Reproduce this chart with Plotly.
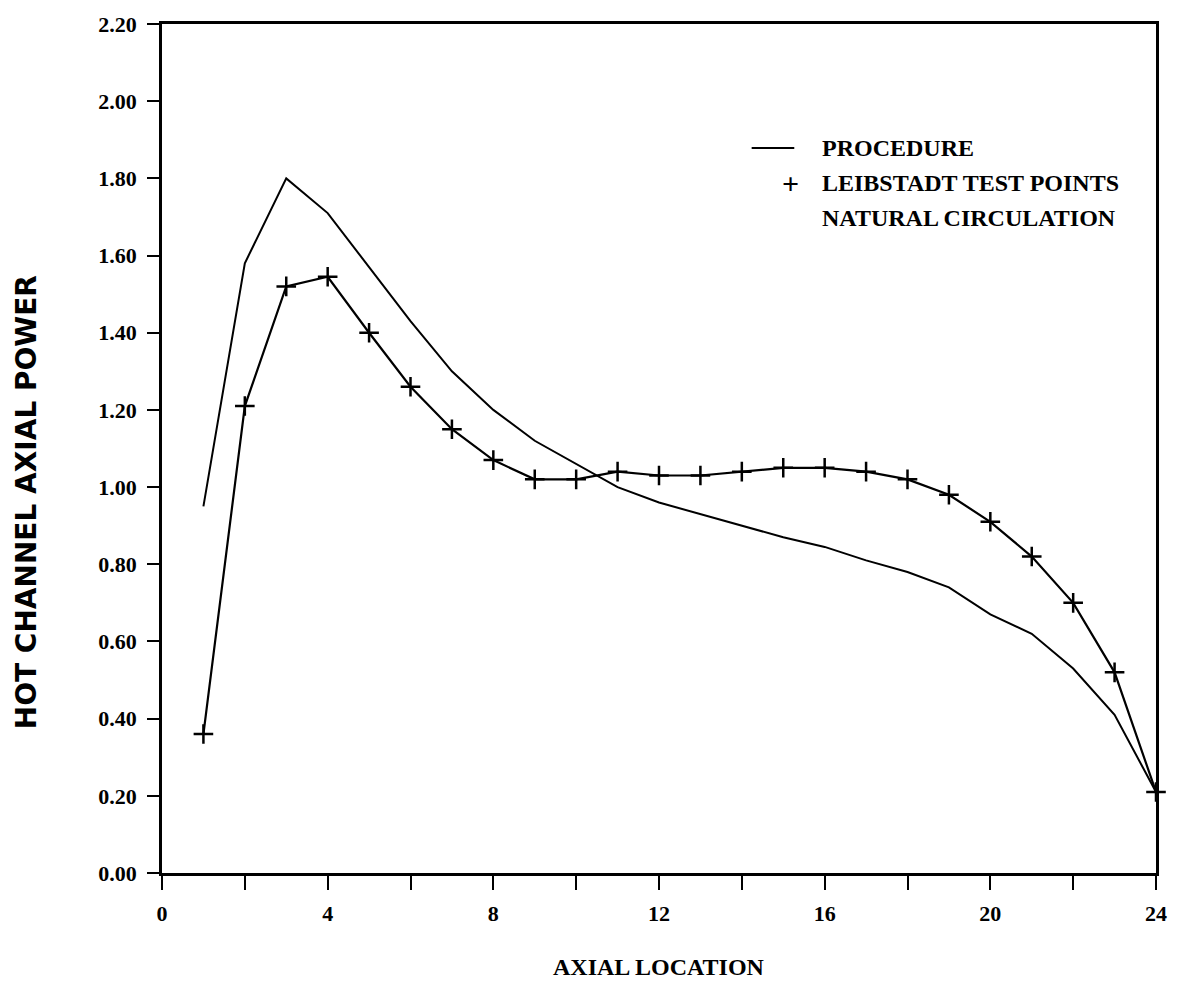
import plotly.graph_objects as go

# ---- data ----
axial_location = list(range(1, 25))
procedure = [0.95, 1.58, 1.80, 1.71, 1.57, 1.43, 1.30, 1.20, 1.12, 1.06, 1.00, 0.96,
             0.93, 0.90, 0.87, 0.845, 0.81, 0.78, 0.74, 0.67, 0.62, 0.53, 0.41, 0.21]
leibstadt = [0.36, 1.21, 1.52, 1.545, 1.40, 1.26, 1.15, 1.07, 1.02, 1.02, 1.04, 1.03,
             1.03, 1.04, 1.05, 1.05, 1.04, 1.02, 0.98, 0.91, 0.82, 0.70, 0.52, 0.21]
x_ticks = [0, 4, 8, 12, 16, 20, 24]
y_ticks = [0.0, 0.2, 0.4, 0.6, 0.8, 1.0, 1.2, 1.4, 1.6, 1.8, 2.0, 2.2]

W, H = 1179, 984
L, R, T, B = 162, 1165, 24, 873   # plot box in pixels


def px(x):
    return (x - L) / (R - L)


def py(y):
    return (B - y) / (B - T)


serif = dict(family="Liberation Serif", size=22, color="black", weight="bold")
serif24 = dict(family="Liberation Serif", size=24, color="black", weight="bold")

fig = go.Figure()
fig.add_trace(go.Scatter(x=axial_location, y=procedure, mode="lines",
                         line=dict(color="black", width=2), showlegend=False))
fig.add_trace(go.Scatter(x=axial_location, y=leibstadt, mode="lines+markers",
                         line=dict(color="black", width=2.2),
                         marker=dict(symbol="cross-thin", size=14,
                                     line=dict(color="black", width=2.5)),
                         cliponaxis=False, showlegend=False))

fig.update_layout(
    width=W, height=H,
    margin=dict(l=L, r=W - R, t=T, b=H - B),
    paper_bgcolor="white", plot_bgcolor="white",
    showlegend=False,
)
fig.update_xaxes(range=[0, 24], tickvals=x_ticks, ticktext=[str(v) for v in x_ticks],
                 showgrid=False, zeroline=False, showline=True, linecolor="black",
                 linewidth=2.5, mirror=True, ticks="outside", ticklen=14, tickwidth=2,
                 tickcolor="black", tickfont=serif, ticklabelstandoff=5,
                 minor=dict(dtick=2, tick0=0, ticks="outside", ticklen=14, tickwidth=2,
                            tickcolor="black", showgrid=False))
fig.update_yaxes(range=[0, 2.2], tickvals=y_ticks, ticktext=[f"{v:.2f}" for v in y_ticks],
                 showgrid=False, zeroline=False, showline=True, linecolor="black",
                 linewidth=2.5, mirror=True, ticks="outside", ticklen=12, tickwidth=2,
                 tickcolor="black", tickfont=serif, ticklabelstandoff=6)

# axis titles
fig.add_annotation(text="AXIAL LOCATION", xref="paper", yref="paper",
                   x=px((L + R) / 2), y=py(967), xanchor="center", yanchor="middle",
                   showarrow=False, font=serif24)
fig.add_annotation(text="HOT CHANNEL AXIAL POWER", xref="paper", yref="paper",
                   x=px(25), y=py(502), xanchor="center", yanchor="middle",
                   textangle=-90, showarrow=False,
                   font=dict(family="DejaVu Sans", size=28, color="black", weight="bold"))

# legend
fig.add_shape(type="line", xref="paper", yref="paper",
              x0=px(757), x1=px(800), y0=py(148), y1=py(148),
              line=dict(color="black", width=2))
fig.add_annotation(text="+", xref="paper", yref="paper", x=px(796), y=py(183),
                   xanchor="center", yanchor="middle", showarrow=False,
                   font=dict(family="Liberation Serif", size=30, color="black", weight="bold"))
for label, yy in [("PROCEDURE", 148), ("LEIBSTADT TEST POINTS", 183),
                  ("NATURAL CIRCULATION", 218)]:
    fig.add_annotation(text=label, xref="paper", yref="paper", x=px(826), y=py(yy),
                       xanchor="left", yanchor="middle", showarrow=False, font=serif24)

fig.write_html("out.html")
